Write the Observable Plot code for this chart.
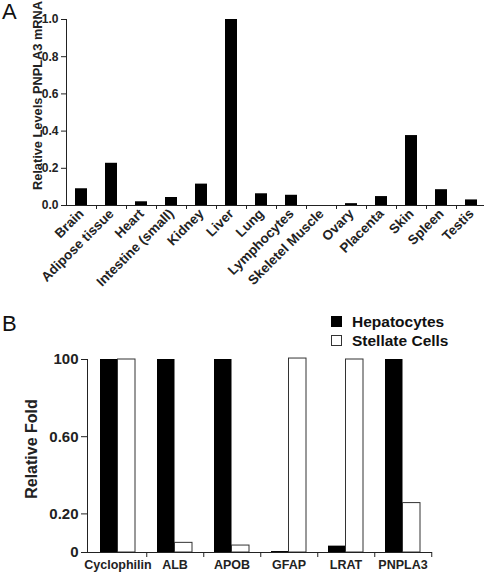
<!DOCTYPE html>
<html><head><meta charset="utf-8">
<script src="https://cdn.jsdelivr.net/npm/d3@7"></script>
<script src="https://cdn.jsdelivr.net/npm/@observablehq/plot@0.6"></script>
<style>
body{margin:0;background:#fff;font-family:"Liberation Sans",Arial,Helvetica,sans-serif;color:#111}
#wrap{position:relative;width:484px;height:572px;overflow:hidden}
#wrap svg{position:absolute;left:0;overflow:visible}
#wrap svg text{font-weight:bold}
.panel{position:absolute;font-size:22px;line-height:1;font-weight:normal}
.leg{position:absolute;font-size:15.5px;line-height:1;font-weight:bold;white-space:nowrap}
.sw{position:absolute;width:11px;height:11px;box-sizing:border-box}
</style></head><body>
<div id="wrap"></div>
<script>
// ---- Data: panel A ----
const tissues = ["Brain","Adipose tissue","Heart","Intestine (small)","Kidney","Liver","Lung","Lymphocytes","Skeletel Muscle","Ovary","Placenta","Skin","Spleen","Testis"];
const tissueLevels = [0.09,0.227,0.02,0.043,0.115,1.0,0.063,0.055,0,0.01,0.048,0.376,0.085,0.03];
const yTicksA = [0,0.2,0.4,0.6,0.8,1.0];
const yTickLabelsA = ["0.0","0.2","0.4","0.6","0.8","1.0"];
const yLabelA = "Relative Levels PNPLA3 mRNA";

// ---- Data: panel B ----
const genes = ["Cyclophilin","ALB","APOB","GFAP","LRAT","PNPLA3"];
const cellTypes = ["Hepatocytes","Stellate Cells"];
const hepatocytes = [1.0,1.0,1.0,0.005,0.033,1.0];
const stellate = [1.0,0.05,0.036,1.005,1.0,0.256];
const yTicksB = [0,0.2,0.6,1.0];
const yTickLabelsB = ["0","0.20","0.60","100"];
const yLabelB = "Relative Fold";

const FONT = "'Liberation Sans', Arial, Helvetica, sans-serif";
const INK = "#222";
const wrap = document.getElementById("wrap");

// ---- Panel A ----
const dataA = tissues.map((t,i)=>({tissue:t, value:tissueLevels[i]}));
const plotA = Plot.plot({
  width:484, height:310,
  marginTop:19, marginBottom:105, marginLeft:66, marginRight:0,
  style:{fontFamily:FONT, fontWeight:"bold", background:"transparent", color:INK, overflow:"visible"},
  x:{domain:tissues, range:[66,486], paddingInner:0.6, paddingOuter:0.3},
  y:{domain:[0,1]},
  marks:[
    Plot.barY(dataA, {x:"tissue", y:"value", fill:"#000"}),
    Plot.ruleY([0], {stroke:INK}),
    Plot.frame({anchor:"left", stroke:INK}),
    Plot.axisY({ticks:yTicksA, tickFormat:d=>yTickLabelsA[yTicksA.indexOf(d)], tickSize:5, tickPadding:3, fontSize:12, label:null, stroke:INK}),
    Plot.axisX(tissues.slice(0,-1), {dx:15, tickSize:4, text:null, label:null, stroke:INK}),
    Plot.axisX({tickSize:0, tickPadding:6, tickRotate:-45, fontSize:13.5, label:null}),
    Plot.text([yLabelA], {text:d=>d, frameAnchor:"left", textAnchor:"middle", rotate:-90, dx:-29, dy:-17, fontSize:12.8, fill:INK})
  ]
});
plotA.style.top = "0px";
wrap.appendChild(plotA);

// ---- Panel B ----
const hepData = genes.map((g,i)=>({gene:g, cell:cellTypes[0], value:hepatocytes[i]}));
const stelData = genes.map((g,i)=>({gene:g, cell:cellTypes[1], value:stellate[i]}));
const plotB = Plot.plot({
  width:484, height:262,
  marginTop:49, marginBottom:20, marginLeft:87, marginRight:52,
  style:{fontFamily:FONT, fontWeight:"bold", background:"transparent", color:INK, overflow:"visible"},
  x:{domain:genes, paddingInner:0.39, paddingOuter:0.195},
  y:{domain:[0,1]},
  marks:[
    Plot.barY(hepData, {x:"gene", y:"value", fill:"#000", insetRight:17.5}),
    Plot.barY(stelData, {x:"gene", y:"value", fill:"#fff", stroke:"#333", strokeWidth:1, insetLeft:17.5}),
    Plot.ruleY([0], {stroke:INK}),
    Plot.frame({anchor:"left", stroke:INK}),
    Plot.axisY({ticks:yTicksB, tickFormat:d=>yTickLabelsB[yTicksB.indexOf(d)], tickSize:6, tickPadding:3, fontSize:15, label:null, stroke:INK}),
    Plot.axisX(genes, {dx:28.75, tickSize:5, text:null, label:null, stroke:INK}),
    Plot.axisX({tickSize:0, tickPadding:8, fontSize:12.5, label:null}),
    Plot.text([yLabelB], {text:d=>d, frameAnchor:"left", textAnchor:"middle", rotate:-90, dx:-56, dy:-7, fontSize:16, fill:INK})
  ]
});
plotB.style.top = "310px";
wrap.appendChild(plotB);

// ---- Panel letters & legend ----
function addDiv(cls, text, left, top, extra){
  const d = document.createElement("div");
  d.className = cls; d.textContent = text;
  d.style.left = left+"px"; d.style.top = top+"px";
  if (extra) Object.assign(d.style, extra);
  wrap.appendChild(d); return d;
}
addDiv("panel","A",2,1);
addDiv("panel","B",2,313);
addDiv("sw","",331,316,{background:"#000"});
addDiv("sw","",331,335,{background:"#fff", border:"1px solid #333"});
addDiv("leg",cellTypes[0],352,314);
addDiv("leg",cellTypes[1],352,333);
</script>
</body></html>
